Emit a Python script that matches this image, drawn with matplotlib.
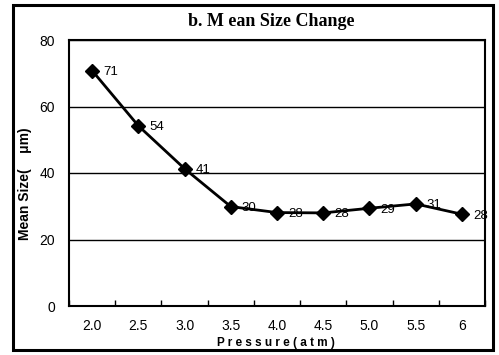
import matplotlib
matplotlib.use("Agg")
import matplotlib.pyplot as plt
from matplotlib.patches import Rectangle
import numpy as np

# data
pressure = ["2.0", "2.5", "3.0", "3.5", "4.0", "4.5", "5.0", "5.5", "6"]
mean_size = [70.8, 54.2, 41.3, 29.9, 28.1, 28.0, 29.4, 30.7, 27.6]
size_labels = ["71", "54", "41", "30", "28", "28", "29", "31", "28"]
y_ticks = [0, 20, 40, 60, 80]

W, H = 499, 355
fig = plt.figure(figsize=(W / 100, H / 100), dpi=100)
fig.patch.set_facecolor("white")

# outer frame
fig.patches.append(Rectangle((13 / W, 1 - 350 / H), 480 / W, 345 / H,
                             transform=fig.transFigure, fill=False,
                             edgecolor="black", linewidth=2.2))

ax = fig.add_axes([69 / W, 1 - 306 / H, 416 / W, 266 / H])
x = np.arange(len(pressure))
ax.plot(x, mean_size, color="black", linewidth=2, marker="D", markersize=7,
        markerfacecolor="black", zorder=3)
for xi, yi, lab in zip(x, mean_size, size_labels):
    ax.annotate(lab, (xi, yi), xytext=(8, -1), textcoords="offset points",
                ha="left", va="center", fontsize=9.5, family="Liberation Sans")

ax.set_xlim(-0.5, len(pressure) - 0.5)
ax.set_ylim(0, 80)
ax.set_yticks(y_ticks)
ax.set_yticklabels([str(v) for v in y_ticks], family="Liberation Sans", fontsize=10)
ax.set_xticks(x)
ax.set_xticklabels(pressure, family="Liberation Sans", fontsize=10)
ax.set_xticks(np.arange(len(pressure) + 1) - 0.5, minor=True)
ax.tick_params(axis="x", which="major", length=0, pad=9)
ax.tick_params(axis="x", which="minor", length=4, direction="in", width=1)
ax.tick_params(axis="y", length=0, pad=10)
ax.yaxis.grid(True, color="black", linewidth=1)
ax.set_axisbelow(True)
for s in ax.spines.values():
    s.set_linewidth(1.5)

fig.text(271 / W, 1 - 22 / H, "b. M ean Size Change", ha="center", va="center",
         fontsize=13, fontweight="bold", family="Liberation Serif")
fig.text(276 / W, 1 - 343 / H, "P r e s s u r e ( a t m )", ha="center", va="center",
         fontsize=8.5, fontweight="bold", family="Liberation Sans")
fig.text(25 / W, 1 - 184 / H, "Mean Size(    \u03bcm)", ha="center", va="center",
         rotation=90, fontsize=10, fontweight="bold", family="Liberation Sans")

fig.savefig("out.png", dpi=100)
